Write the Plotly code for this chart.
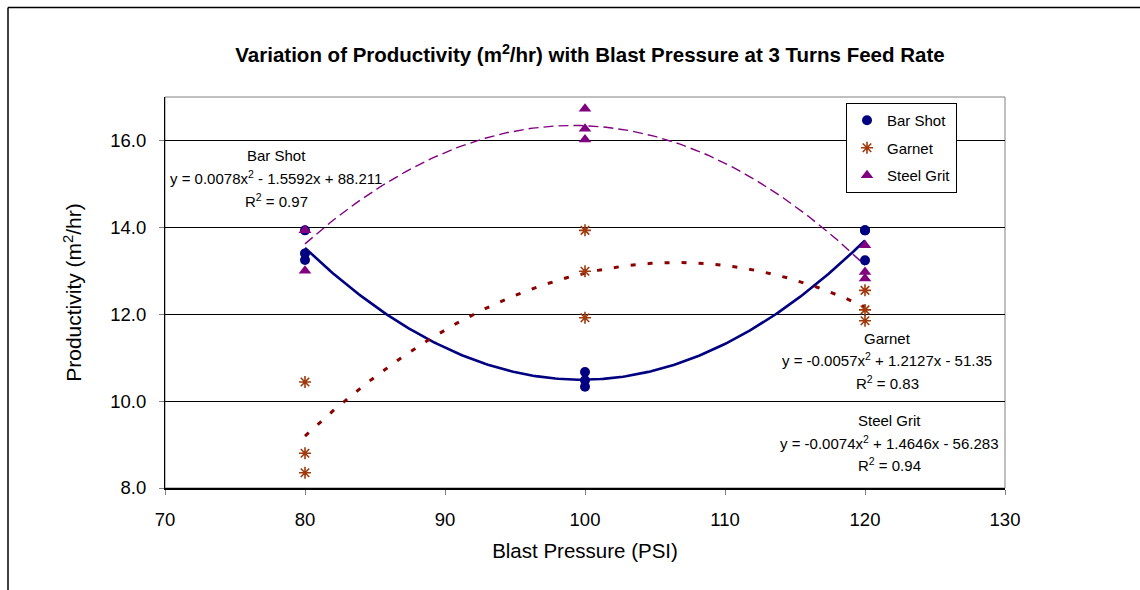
import numpy as np
import plotly.graph_objects as go

# ---- data ----
bar_shot_x = [80, 80, 80, 100, 100, 100, 120, 120, 120]
bar_shot_y = [13.93, 13.40, 13.25, 10.67, 10.48, 10.33, 13.93, 13.93, 13.24]

garnet_x = [80, 80, 80, 100, 100, 100, 120, 120, 120]
garnet_y = [10.44, 8.80, 8.35, 13.93, 12.99, 11.92, 12.55, 12.10, 11.85]

steel_x = [80, 80, 80, 100, 100, 100, 120, 120, 120]
steel_y = [13.93, 13.93, 13.00, 16.73, 16.27, 16.02, 13.59, 12.97, 12.82]

series_names = ["Bar Shot", "Garnet", "Steel Grit"]
eq_texts = {
    "Bar Shot": ["Bar Shot", "y = 0.0078x<sup>2</sup> - 1.5592x + 88.211", "R<sup>2</sup> = 0.97"],
    "Garnet": ["Garnet", "y = -0.0057x<sup>2</sup> + 1.2127x - 51.35", "R<sup>2</sup> = 0.83"],
    "Steel Grit": ["Steel Grit", "y = -0.0074x<sup>2</sup> + 1.4646x - 56.283", "R<sup>2</sup> = 0.94"],
}
x_ticks = [70, 80, 90, 100, 110, 120, 130]
y_ticks = [8, 10, 12, 14, 16]

FONT = "Arial, 'Liberation Sans', sans-serif"

fig = go.Figure()

def trend(xs, ys):
    c = np.polyfit(xs, ys, 2)
    xx = np.linspace(min(xs), max(xs), 200)
    return xx, np.polyval(c, xx)

# trendlines
tx, ty = trend(bar_shot_x, bar_shot_y)
fig.add_trace(go.Scatter(x=tx, y=ty, mode="lines", line=dict(color="#000080", width=2.6),
                         showlegend=False, hoverinfo="skip"))
tx, ty = trend(garnet_x, garnet_y)
fig.add_trace(go.Scatter(x=tx, y=ty, mode="lines", line=dict(color="#8B0000", width=3, dash="5px,12px"),
                         showlegend=False, hoverinfo="skip"))
tx, ty = trend(steel_x, steel_y)
fig.add_trace(go.Scatter(x=tx, y=ty, mode="lines", line=dict(color="#800080", width=1.4, dash="10px,5px"),
                         showlegend=False, hoverinfo="skip"))

# markers
fig.add_trace(go.Scatter(x=bar_shot_x, y=bar_shot_y, mode="markers", name="Bar Shot", legendgroup="a",
                         marker=dict(symbol="circle", size=10, color="#000080")))
fig.add_trace(go.Scatter(x=garnet_x, y=garnet_y, mode="markers", name="Garnet", legendgroup="b",
                         marker=dict(symbol="asterisk-open", size=10, color="#A03A0C",
                                     line=dict(color="#A03A0C", width=1.6))))
fig.add_trace(go.Scatter(x=steel_x, y=steel_y, mode="markers", name="Steel Grit", legendgroup="c",
                         marker=dict(symbol="triangle-up", size=11, color="#800080")))

# geometry helpers (pixel -> paper)
L, R, T, B = 165, 1005, 97, 488
def px(x):
    return (x - L) / (R - L)
def py(y):
    return (B - y) / (B - T)

annotations = []
blocks = [
    ("Bar Shot", 276, [155, 177, 200]),
    ("Garnet", 887, [338, 360, 382]),
    ("Steel Grit", 889, [420, 442, 464]),
]
for name, cx, ys in blocks:
    for txt, yy in zip(eq_texts[name], ys):
        annotations.append(dict(x=px(cx), y=py(yy), xref="paper", yref="paper", text=txt,
                                showarrow=False, xanchor="center", yanchor="middle",
                                font=dict(family=FONT, size=15, color="black")))

shapes = [
    # plot-area frame (gray top/right)
    dict(type="rect", xref="paper", yref="paper", x0=0, x1=1, y0=0, y1=1,
         line=dict(color="#808080", width=1), layer="below"),
    # outer chart border (top and left only visible)
    dict(type="line", xref="paper", yref="paper", x0=px(8), x1=px(1140), y0=py(7.5), y1=py(7.5),
         line=dict(color="black", width=1.5)),
    dict(type="line", xref="paper", yref="paper", x0=px(8), x1=px(8), y0=py(7.5), y1=py(592),
         line=dict(color="black", width=1.5)),
]

fig.update_layout(
    width=1140, height=590,
    margin=dict(l=L, r=1140 - R, t=T, b=590 - B),
    paper_bgcolor="white", plot_bgcolor="white",
    font=dict(family=FONT, color="black"),
    title=dict(text="<b>Variation of Productivity (m<sup>2</sup>/hr) with Blast Pressure at 3 Turns Feed Rate</b>",
               x=(590 / 1140), xanchor="center", y=1 - 55 / 590, yanchor="middle",
               font=dict(family=FONT, size=20.5, color="black")),
    xaxis=dict(range=[70, 130], tickvals=x_ticks, ticks="outside", ticklen=5, tickcolor="#808080",
               showline=True, linecolor="black", linewidth=2, showgrid=False, zeroline=False,
               tickfont=dict(family=FONT, size=18.5), ticklabelstandoff=9,
               title=dict(text="Blast Pressure (PSI)", font=dict(family=FONT, size=20.5), standoff=14)),
    yaxis=dict(range=[8, 17], tickvals=y_ticks, tickformat=".1f", ticks="outside", ticklen=5,
               tickcolor="#808080", showline=True, linecolor="black", linewidth=1,
               showgrid=True, gridcolor="black", gridwidth=1, zeroline=False,
               tickfont=dict(family=FONT, size=18.5), ticklabelstandoff=9,
               title=dict(text="Productivity (m<sup>2</sup>/hr)", font=dict(family=FONT, size=21), standoff=22)),
    legend=dict(x=px(846), y=py(103), xanchor="left", yanchor="top", bordercolor="black", borderwidth=1,
                bgcolor="white", font=dict(family=FONT, size=15), tracegroupgap=5,
                itemwidth=30),
    annotations=annotations,
    shapes=shapes,
)

fig.write_html("out.html")
